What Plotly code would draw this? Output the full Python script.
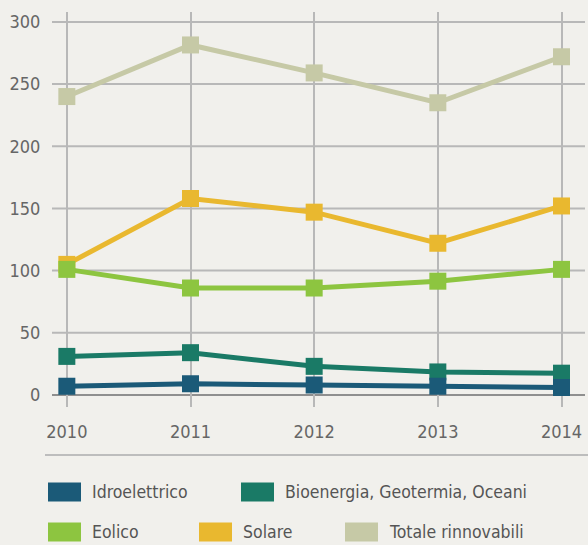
import plotly.graph_objects as go

years = [2010, 2011, 2012, 2013, 2014]
series_names = ["Idroelettrico", "Bioenergia, Geotermia, Oceani", "Eolico", "Solare", "Totale rinnovabili"]
idro = [7, 9, 8, 7, 6]
bio = [31, 34, 23, 18.5, 17.5]
eolico = [101, 86, 86, 91.5, 101]
solare = [105, 158, 147, 122, 152]
totale = [240, 281.5, 259, 235, 272]
colors = ["#1b5a78", "#1a7a66", "#8dc540", "#e9b82f", "#c6c9a6"]
y_ticks = [0, 50, 100, 150, 200, 250, 300]

W, H = 588, 545
ml, mr, mt, mb = 52, 3, 12, 138
pw, ph = W - ml - mr, H - mt - mb

def px(x):
    return (x - ml) / pw

def py(y):
    return (H - mb - y) / ph

FONT = "Liberation Sans Narrow, DejaVu Sans Condensed, sans-serif"

fig = go.Figure()
order = [4, 3, 2, 1, 0]
data = [idro, bio, eolico, solare, totale]
for i in order:
    fig.add_trace(go.Scatter(
        x=years, y=data[i], name=series_names[i], mode="lines+markers",
        line=dict(color=colors[i], width=5),
        marker=dict(symbol="square", size=17, color=colors[i]),
        showlegend=False, cliponaxis=False, hoverinfo="skip",
    ))

fig.update_layout(
    width=W, height=H,
    margin=dict(l=ml, r=mr, t=mt, b=mb, autoexpand=False),
    paper_bgcolor="#f1f0ec", plot_bgcolor="#f1f0ec",
    font=dict(family=FONT, color="#666666", size=18),
    xaxis=dict(range=[2009.88, 2014.19], tickvals=years, showgrid=True, automargin=False,
               gridcolor="#b8b8b8", gridwidth=2, zeroline=False, fixedrange=True,
               ticks="outside", ticklen=8, tickcolor="rgba(0,0,0,0)",
               tickfont=dict(size=18, color="#666666", family=FONT)),
    yaxis=dict(range=[-9.7, 308], tickvals=y_ticks, showgrid=False, automargin=False,
               zeroline=False, fixedrange=True, ticks="outside", ticklen=7, tickcolor="rgba(0,0,0,0)",
               tickfont=dict(size=18, color="#666666", family=FONT)),
)

shapes = []
for t in y_ticks:
    shapes.append(dict(type="line", xref="paper", yref="y", x0=0, x1=1, y0=t, y1=t,
                       line=dict(color="#8f8f8f" if t == 0 else "#b8b8b8", width=2), layer="below"))
shapes.append(dict(type="line", xref="paper", yref="paper", x0=px(45), x1=px(588),
                   y0=py(455), y1=py(455), line=dict(color="#bdbdbd", width=2)))

legend_pos = [(48, 492), (241, 492), (48, 532), (199, 532), (345, 532)]
annotations = []
for i, (lx, ly) in enumerate(legend_pos):
    shapes.append(dict(type="rect", xref="paper", yref="paper",
                       x0=px(lx), x1=px(lx + 33), y0=py(ly - 9.5), y1=py(ly + 9.5),
                       fillcolor=colors[i], line=dict(width=0)))
    annotations.append(dict(text=series_names[i], xref="paper", yref="paper",
                            x=px(lx + 42), y=py(ly), xanchor="left", yanchor="middle",
                            showarrow=False, font=dict(size=17.5, color="#555555", family=FONT)))

fig.update_layout(shapes=shapes, annotations=annotations)
fig.write_html("out.html", config={"displayModeBar": False},
               post_script="document.body.style.margin='0';document.body.style.overflow='hidden';document.body.style.background='#f1f0ec';")
